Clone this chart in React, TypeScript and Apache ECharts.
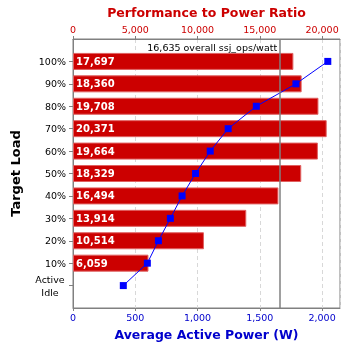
import React, { useEffect, useRef } from "react";
import * as echarts from "echarts";

const loadLabels = ["100%", "90%", "80%", "70%", "60%", "50%", "40%", "30%", "20%", "10%", "Active\nIdle"];
const perfToPower = [17697, 18360, 19708, 20371, 19664, 18329, 16494, 13914, 10514, 6059];
const avgPower = [2046, 1790, 1472, 1246, 1102, 984, 876, 782, 686, 597, 404];
const overallRatio = 16635;
const ratioTicks = { min: 0, max: 21440, interval: 5000 };
const powerTicks = { min: 0, max: 2144, interval: 500 };

const FONT = "DejaVu Sans";
const fmt = (v: number) => v.toLocaleString("en-US");

export default function App() {
  const ref = useRef<HTMLDivElement>(null);
  useEffect(() => {
    if (!ref.current) return;
    const chart = echarts.init(ref.current, undefined, { renderer: "svg" });
    // padded categories: blank at top and bottom
    const cats = ["", ...loadLabels, ""];
    const barData = perfToPower.map((v, i) => [v, i + 1]);
    const lineData = avgPower.map((v, i) => [v, i + 1]);
    chart.setOption({
      animation: false,
      textStyle: { fontFamily: FONT },
      grid: {
        left: 73, right: 8, top: 39, bottom: 40,
        show: true, borderColor: "#808080", borderWidth: 1,
        containLabel: false, outerBoundsMode: "none",
      },
      xAxis: [
        {
          type: "value",
          position: "top",
          min: ratioTicks.min,
          max: ratioTicks.max,
          interval: ratioTicks.interval,
          name: "Performance to Power Ratio",
          nameLocation: "middle",
          nameGap: 16,
          nameTextStyle: { color: "#cc0000", fontWeight: "bold", fontSize: 12.5, fontFamily: FONT },
          axisLine: { show: true, lineStyle: { color: "#808080" } },
          axisTick: { show: true, length: 3, lineStyle: { color: "#808080" } },
          axisLabel: { color: "#cc0000", fontSize: 9.5, margin: 5, showMaxLabel: false, formatter: (v: number) => fmt(v), fontFamily: FONT },
          splitLine: { show: true, lineStyle: { color: "#d8d8d8", type: [4, 3] } },
        },
        {
          type: "value",
          position: "bottom",
          min: powerTicks.min,
          max: powerTicks.max,
          interval: powerTicks.interval,
          name: "Average Active Power (W)",
          nameLocation: "middle",
          nameGap: 20,
          nameTextStyle: { color: "#0000cc", fontWeight: "bold", fontSize: 12.5, fontFamily: FONT },
          axisLine: { show: true, lineStyle: { color: "#808080" } },
          axisTick: { show: true, length: 3, lineStyle: { color: "#808080" } },
          axisLabel: { color: "#0000cc", fontSize: 9.5, margin: 4, showMaxLabel: false, formatter: (v: number) => fmt(v), fontFamily: FONT },
          splitLine: { show: false },
        },
      ],
      yAxis: {
        type: "category",
        inverse: true,
        boundaryGap: false,
        data: cats,
        name: "Target Load",
        nameLocation: "middle",
        nameGap: 51,
        nameTextStyle: { color: "#000", fontWeight: "bold", fontSize: 13, fontFamily: FONT },
        axisLine: { show: true, lineStyle: { color: "#808080" } },
        axisTick: { show: true, length: 4, interval: (_i: number, v: string) => v !== "", lineStyle: { color: "#808080" } },
        axisLabel: {
          interval: 0,
          color: "#000",
          fontSize: 9.5,
          margin: 7,
          fontFamily: FONT,
          formatter: (v: string) => (v.includes("\n") ? `{c|${v}}` : v),
          rich: { c: { width: 32, align: "center", fontSize: 9.5, lineHeight: 13, color: "#000", fontFamily: FONT } },
        },
        splitLine: { show: false },
      },
      series: [
        {
          type: "bar",
          xAxisIndex: 0,
          yAxisIndex: 0,
          data: barData,
          barWidth: 17,
          itemStyle: { color: "#cc0000", borderColor: "#e06060", borderWidth: 1 },
          label: {
            show: true,
            position: "insideLeft",
            distance: 3,
            color: "#fff",
            fontWeight: "bold",
            fontSize: 10,
            fontFamily: FONT,
            formatter: (p: any) => fmt(p.value[0]),
          },
          markLine: {
            silent: true,
            symbol: "none",
            label: { show: false },
            lineStyle: { color: "#808080", width: 1.5, type: "solid" },
            data: [{ xAxis: overallRatio }],
          },
          markPoint: {
            silent: true,
            symbol: "rect",
            symbolSize: 0,
            data: [{ coord: [overallRatio, 0] }],
            label: {
              show: true,
              position: "left",
              distance: 3,
              offset: [0, 8],
              color: "#000",
              fontSize: 9.5,
              fontFamily: FONT,
              formatter: () => `${fmt(overallRatio)} overall ssj_ops/watt`,
            },
          },
          z: 2,
        },
        {
          type: "line",
          xAxisIndex: 1,
          yAxisIndex: 0,
          data: lineData,
          symbol: "rect",
          symbolSize: 7,
          lineStyle: { color: "#0000ff", width: 1 },
          itemStyle: { color: "#0000ff" },
          z: 3,
        },
      ],
    });
    return () => chart.dispose();
  }, []);
  return <div ref={ref} style={{ position: "fixed", left: 0, top: 0, width: 348, height: 348 }} />;
}
